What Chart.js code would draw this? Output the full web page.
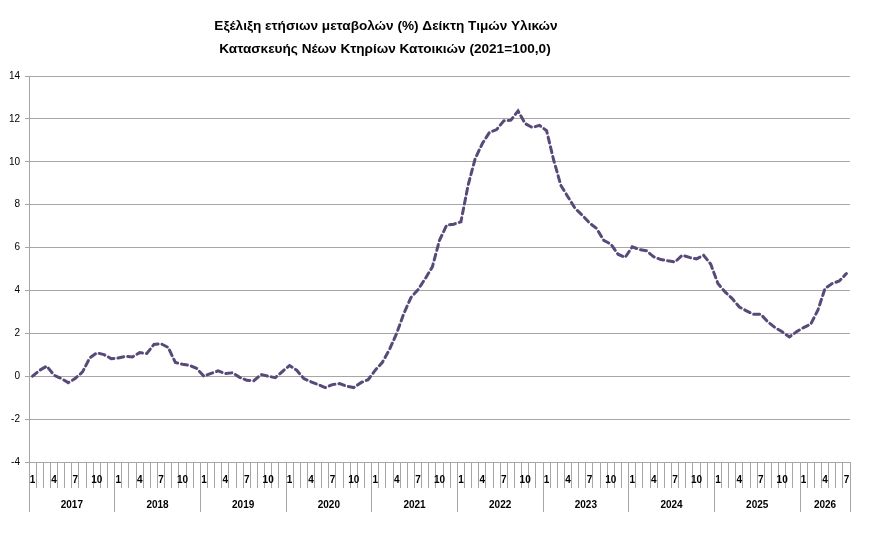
<!DOCTYPE html>
<html>
<head>
<meta charset="utf-8">
<script src="https://cdn.jsdelivr.net/npm/chart.js@4.4.1/dist/chart.umd.min.js"></script>
<style>
  html, body { margin: 0; padding: 0; background: #ffffff; }
  #wrap { position: relative; width: 870px; height: 535px; }
</style>
</head>
<body>
<div id="wrap"><canvas id="c" width="870" height="535"></canvas></div>
<script>
// ---- data ----
const titleLines = [
  'Εξέλιξη ετήσιων μεταβολών (%) Δείκτη Τιμών Υλικών',
  'Κατασκευής Νέων Κτηρίων Κατοικιών (2021=100,0)'
];
const years = ['2017','2018','2019','2020','2021','2022','2023','2024','2025','2026'];
const monthsPerYear = [12,12,12,12,12,12,12,12,12,7];
const shownMonths = ['1','4','7','10'];
const yTicks = [-4,-2,0,2,4,6,8,10,12,14];

const v2017 = [0.0, 0.28, 0.47, 0.05, -0.1, -0.3, -0.1, 0.2, 0.85, 1.09, 1.01, 0.82];
const v2018 = [0.85, 0.93, 0.9, 1.1, 1.06, 1.48, 1.51, 1.34, 0.64, 0.56, 0.51, 0.36];
const v2019 = [0.0, 0.13, 0.25, 0.12, 0.16, -0.05, -0.19, -0.21, 0.08, 0.0, -0.07, 0.22];
const v2020 = [0.5, 0.28, -0.11, -0.26, -0.39, -0.53, -0.39, -0.34, -0.47, -0.53, -0.3, -0.16];
const v2021 = [0.28, 0.65, 1.25, 2.0, 2.92, 3.67, 4.04, 4.55, 5.1, 6.34, 7.04, 7.09];
const v2022 = [7.2, 8.9, 10.15, 10.85, 11.37, 11.5, 11.91, 11.94, 12.37, 11.78, 11.6, 11.7];
const v2023 = [11.45, 10.07, 8.9, 8.36, 7.82, 7.51, 7.15, 6.89, 6.34, 6.16, 5.69, 5.54];
const v2024 = [6.03, 5.91, 5.85, 5.57, 5.44, 5.38, 5.33, 5.64, 5.54, 5.47, 5.64, 5.22];
const v2025 = [4.32, 3.93, 3.62, 3.23, 3.05, 2.89, 2.89, 2.53, 2.27, 2.07, 1.83, 2.07];
const v2026 = [2.27, 2.43, 3.08, 4.09, 4.32, 4.44, 4.79];

// ---- build ----
const values = [].concat(v2017, v2018, v2019, v2020, v2021, v2022, v2023, v2024, v2025, v2026);
const monthLabels = [];
monthsPerYear.forEach(n => { for (let m = 1; m <= n; m++) monthLabels.push(String(m)); });
const total = monthLabels.length;

// year axis ticks: boundaries and midpoints
const yearBounds = [0];
const yearMids = [];
let acc = 0;
monthsPerYear.forEach(n => { yearMids.push(acc + n / 2); acc += n; yearBounds.push(acc); });

const GRID = '#a6a6a6';
const FONT = "'Liberation Sans', Arial, sans-serif";

const titlePlugin = {
  id: 'titlePlugin',
  afterDraw(chart) {
    const ctx = chart.ctx;
    ctx.save();
    ctx.fillStyle = '#000000';
    ctx.font = "bold 13.6px " + FONT;
    ctx.textAlign = 'center';
    ctx.textBaseline = 'middle';
    ctx.fillText(titleLines[0], 386, 26);
    ctx.fillText(titleLines[1], 385, 49);
    ctx.restore();
  }
};

new Chart(document.getElementById('c'), {
  type: 'line',
  data: {
    labels: monthLabels,
    datasets: [{
      data: values,
      borderColor: '#574a78',
      borderWidth: 3,
      borderDash: [6, 4],
      borderCapStyle: 'round',
      pointRadius: 0,
      tension: 0,
      fill: false
    }]
  },
  options: {
    responsive: false,
    animation: false,
    layout: { padding: { top: 76, right: 20, left: 0, bottom: 23 } },
    plugins: { legend: { display: false }, tooltip: { enabled: false }, title: { display: false } },
    scales: {
      y: {
        min: -4, max: 14,
        afterBuildTicks: (axis) => { axis.ticks = yTicks.map(v => ({ value: v })); },
        afterFit: (axis) => { axis.width = 29; },
        ticks: { color: '#000000', font: { family: FONT, size: 10 }, padding: 5 },
        grid: { color: GRID, lineWidth: 1, tickLength: 4, drawTicks: true },
        border: { display: true, color: GRID }
      },
      x: {
        type: 'category',
        offset: true,
        afterFit: (axis) => { axis.height = 26; },
        ticks: {
          autoSkip: false, maxRotation: 0, minRotation: 0,
          color: '#000000', font: { family: FONT, size: 10, weight: 'bold' },
          padding: -14,
          callback: function (val, idx) { const l = monthLabels[idx]; return shownMonths.includes(l) ? l : ''; }
        },
        grid: { offset: true, drawOnChartArea: false, tickLength: 26, color: GRID, lineWidth: 1 },
        border: { display: true, color: GRID }
      },
      xYear: {
        type: 'linear',
        position: 'bottom',
        min: 0, max: total,
        afterBuildTicks: (axis) => {
          const t = yearBounds.concat(yearMids).sort((a, b) => a - b);
          axis.ticks = t.map(v => ({ value: v }));
        },
        afterFit: (axis) => { axis.height = 24; },
        ticks: {
          autoSkip: false, maxRotation: 0, minRotation: 0,
          color: '#000000', font: { family: FONT, size: 10, weight: 'bold' },
          padding: -13,
          callback: function (val) { const i = yearMids.indexOf(val); return i >= 0 ? years[i] : ''; }
        },
        grid: {
          drawOnChartArea: false, tickLength: 24, lineWidth: 1,
          color: (c) => (c.tick && yearBounds.includes(c.tick.value)) ? GRID : 'rgba(0,0,0,0)'
        },
        border: { display: false }
      }
    }
  },
  plugins: [titlePlugin]
});
</script>
</body>
</html>
